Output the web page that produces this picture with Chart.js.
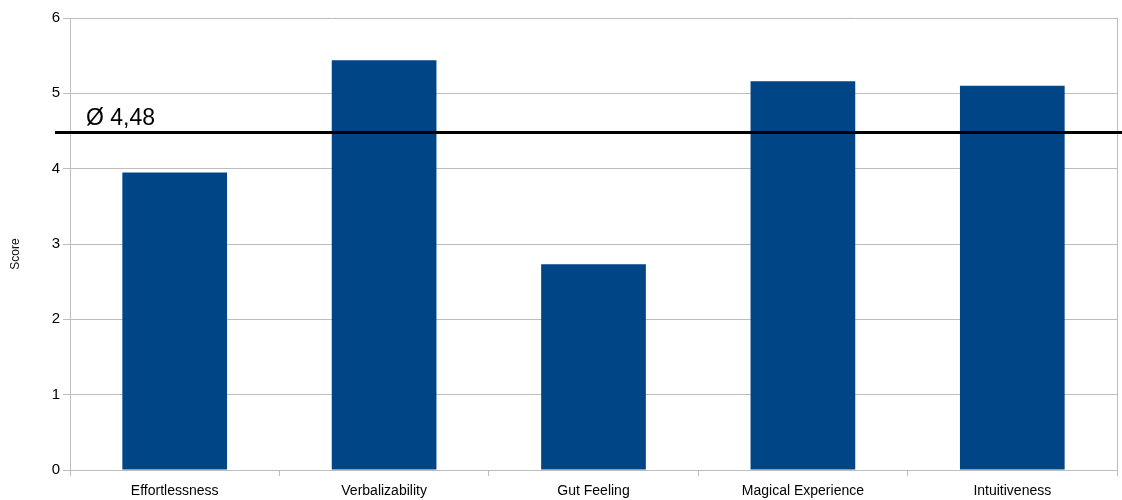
<!DOCTYPE html>
<html>
<head>
<meta charset="utf-8">
<style>
  html, body { margin: 0; padding: 0; background: #ffffff; }
  #wrap { width: 1122px; height: 500px; }
</style>
<script src="https://cdn.jsdelivr.net/npm/chart.js@4/dist/chart.umd.min.js"></script>
</head>
<body>
<div id="wrap"><canvas id="chart" width="1122" height="500"></canvas></div>
<script>
// Categories and mean scores per dimension
const categories = ['Effortlessness', 'Verbalizability', 'Gut Feeling', 'Magical Experience', 'Intuitiveness'];
const scores = [3.95, 5.44, 2.73, 5.16, 5.10];
const averageScore = 4.48;
const averageLabel = 'Ø 4,48';
const yTicks = [0, 1, 2, 3, 4, 5, 6];
const yTitle = 'Score';

const FONT = '"Liberation Sans", Arial, sans-serif';
const GRID = '#bdbdbd';

// Draws the average line, its label, the right frame edge and the rotated axis title
const overlay = {
  id: 'overlay',
  afterDatasetsDraw(chart) {
    const { ctx, chartArea, scales } = chart;
    const y = scales.y.getPixelForValue(averageScore);
    ctx.save();
    ctx.strokeStyle = GRID;
    ctx.lineWidth = 1;
    ctx.beginPath();
    ctx.moveTo(chartArea.right + 0.5, chartArea.top);
    ctx.lineTo(chartArea.right + 0.5, chartArea.bottom);
    ctx.stroke();

    ctx.strokeStyle = '#000000';
    ctx.lineWidth = 3;
    ctx.beginPath();
    ctx.moveTo(chartArea.left - 15, y);
    ctx.lineTo(chart.width, y);
    ctx.stroke();

    ctx.fillStyle = '#000000';
    ctx.font = '23px ' + FONT;
    ctx.textAlign = 'left';
    ctx.textBaseline = 'alphabetic';
    ctx.fillText(averageLabel, chartArea.left + 16, y - 8);

    ctx.translate(16, (chartArea.top + chartArea.bottom) / 2 + 10);
    ctx.rotate(-Math.PI / 2);
    ctx.font = '12px ' + FONT;
    ctx.textAlign = 'center';
    ctx.textBaseline = 'middle';
    ctx.fillStyle = '#111111';
    ctx.fillText(yTitle, 0, 0);
    ctx.restore();
  }
};

new Chart(document.getElementById('chart'), {
  type: 'bar',
  data: {
    labels: categories,
    datasets: [{
      data: scores,
      backgroundColor: '#004586',
      borderWidth: 0,
      barPercentage: 0.5,
      categoryPercentage: 1.0
    }]
  },
  options: {
    responsive: false,
    animation: false,
    layout: { padding: { top: 18, right: 5, left: 0, bottom: 0 } },
    plugins: { legend: { display: false }, tooltip: { enabled: false } },
    scales: {
      x: {
        offset: true,
        grid: { offset: true, drawOnChartArea: false, drawTicks: true, tickLength: 6, color: GRID },
        border: { color: GRID },
        ticks: { color: '#000000', font: { family: FONT, size: 14 }, padding: 7, maxRotation: 0 },
        afterFit(scale) { scale.height = 30; }
      },
      y: {
        min: 0,
        max: 6,
        afterBuildTicks(scale) { scale.ticks = yTicks.map(v => ({ value: v })); },
        grid: { color: GRID, tickLength: 7 },
        border: { color: GRID },
        ticks: { color: '#000000', font: { family: FONT, size: 15 }, padding: 3 },
        afterFit(scale) { scale.width = 70; }
      }
    }
  },
  plugins: [overlay]
});
</script>
</body>
</html>
